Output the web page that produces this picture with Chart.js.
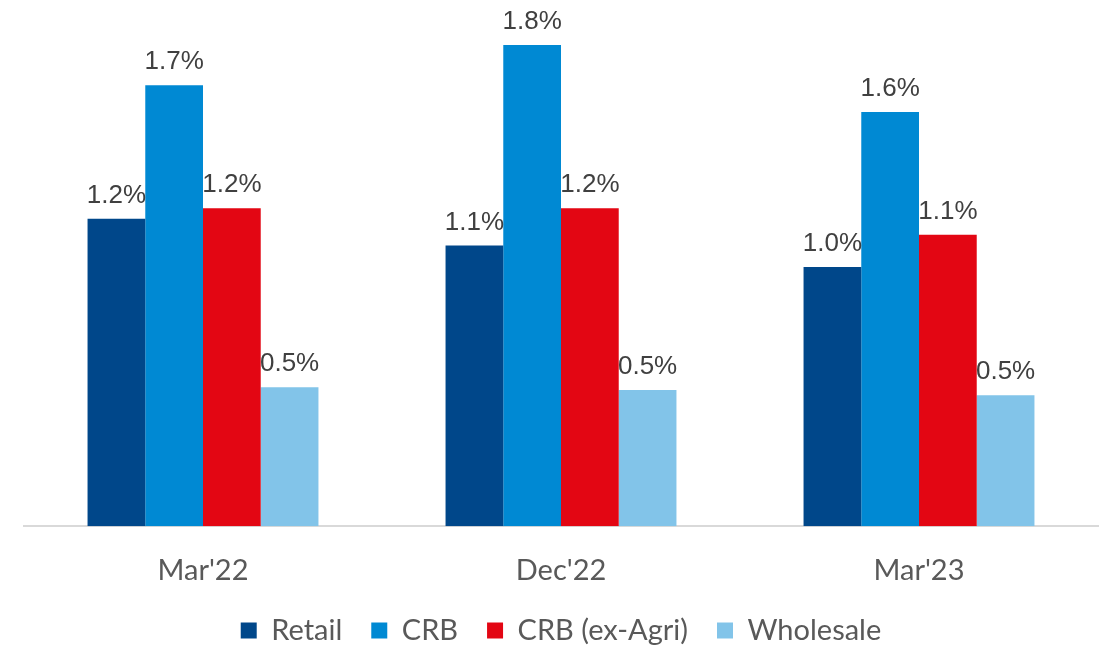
<!DOCTYPE html>
<html>
<head>
<meta charset="utf-8">
<script src="https://cdn.jsdelivr.net/npm/chart.js@4"></script>
<style>
  html, body { margin: 0; padding: 0; background: #fff; }
  #wrap { width: 1107px; height: 647px; position: relative; }
</style>
</head>
<body>
<div id="wrap"><canvas id="barChart"></canvas></div>
<script>
const categories = ["Mar'22", "Dec'22", "Mar'23"];
const seriesNames = ['Retail', 'CRB', 'CRB (ex-Agri)', 'Wholesale'];
const retail = [1.15, 1.05, 0.97];
const crb = [1.65, 1.80, 1.55];
const crbExAgri = [1.19, 1.19, 1.09];
const wholesale = [0.52, 0.51, 0.49];
const colors = ['#00478a', '#0089d3', '#e30613', '#82c4e9'];

const seriesValues = [retail, crb, crbExAgri, wholesale];

// draws the percentage above every bar
const valueLabels = {
    id: 'valueLabels',
    afterDatasetsDraw(chart) {
        const ctx = chart.ctx;
        ctx.save();
        ctx.font = '26px "Liberation Sans", Arial, sans-serif';
        ctx.fillStyle = '#404040';
        ctx.textAlign = 'center';
        ctx.textBaseline = 'alphabetic';
        chart.data.datasets.forEach((ds, i) => {
            chart.getDatasetMeta(i).data.forEach((bar, j) => {
                const v = Math.round(ds.data[j] * 10 + 1e-6) / 10;
                ctx.fillText(v.toFixed(1) + '%', bar.x, bar.y - 16);
            });
        });
        ctx.restore();
    }
};

// the legend keeps wide gaps between items but takes less height,
// and is drawn a little higher without clipping
const shortLegend = {
    id: 'shortLegend',
    beforeInit(chart) {
        const legend = chart.legend;
        const fit = legend.fit;
        legend.fit = function () {
            fit.call(this);
            this.height = 40;
        };
        legend.draw = function () {
            const shift = 20;
            this.top -= shift;
            this._draw();
            this.top += shift;
        };
    }
};

const ctx = document.getElementById('barChart').getContext('2d');

const barChart = new Chart(ctx, {
    type: 'bar',
    data: {
        labels: categories,
        datasets: seriesNames.map((name, i) => ({
            label: name,
            data: seriesValues[i],
            backgroundColor: colors[i],
            borderWidth: 0,
            categoryPercentage: 0.645,
            barPercentage: 1.0
        }))
    },
    options: {
        responsive: true,
        maintainAspectRatio: false,
        animation: false,
        layout: { padding: { top: 5, left: 24, right: 9, bottom: 0 } },
        scales: {
            x: {
                grid: { display: false },
                border: { color: '#d9d9d9', width: 2 },
                ticks: {
                    color: '#595959',
                    padding: 19,
                    font: { family: 'Lato, "Open Sans", sans-serif', size: 29 }
                }
            },
            y: {
                display: false,
                min: 0,
                max: 1.95
            }
        },
        plugins: {
            legend: {
                position: 'bottom',
                labels: {
                    color: '#595959',
                    boxWidth: 16,
                    boxHeight: 16,
                    padding: 29,
                    font: { family: 'Lato, "Open Sans", sans-serif', size: 29 }
                }
            },
            tooltip: { enabled: false }
        }
    },
    plugins: [valueLabels, shortLegend]
});
</script>
</body>
</html>
